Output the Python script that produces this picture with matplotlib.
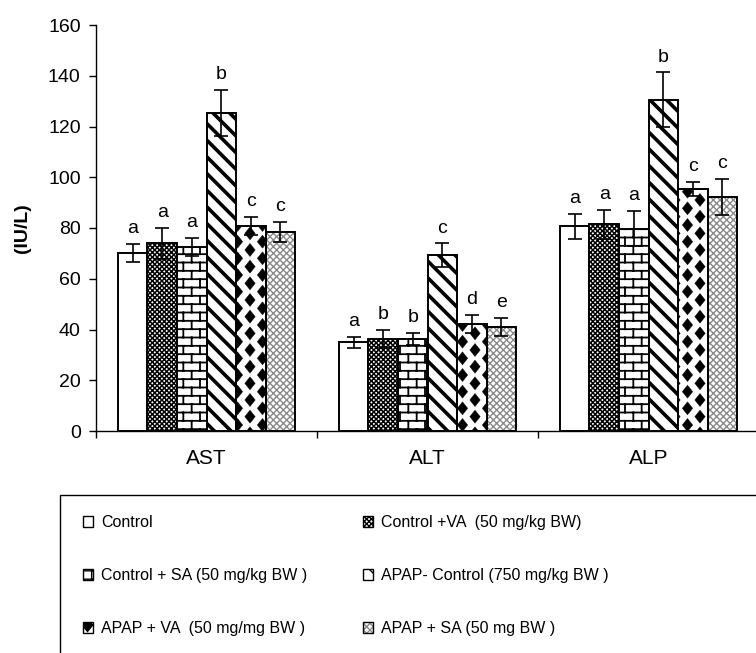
import warnings
import numpy as np
import matplotlib
matplotlib.use('Agg')
import matplotlib.pyplot as plt
import matplotlib.hatch as mhatch
from matplotlib.path import Path
from matplotlib.patches import Patch, Rectangle

warnings.filterwarnings('ignore')

# data
categories = ['AST', 'ALT', 'ALP']
group_labels = ['Control',
                'Control +VA  (50 mg/kg BW)',
                'Control + SA (50 mg/kg BW )',
                'APAP- Control (750 mg/kg BW )',
                'APAP + VA  (50 mg/mg BW )',
                'APAP + SA (50 mg BW )']

control = [70.2, 34.9, 80.7]
control_va = [73.9, 36.4, 81.5]
control_sa = [72.5, 36.4, 79.8]
apap = [125.3, 69.3, 130.5]
apap_va = [80.7, 42.3, 95.4]
apap_sa = [78.5, 41.0, 92.3]

control_err = [3.5, 2.3, 5.0]
control_va_err = [6.0, 3.5, 5.7]
control_sa_err = [3.5, 2.4, 6.8]
apap_err = [9.2, 4.6, 10.8]
apap_va_err = [3.5, 3.5, 2.8]
apap_sa_err = [4.0, 3.6, 7.0]

control_sig = ['a', 'a', 'a']
control_va_sig = ['a', 'b', 'a']
control_sa_sig = ['a', 'b', 'a']
apap_sig = ['b', 'c', 'b']
apap_va_sig = ['c', 'd', 'c']
apap_sa_sig = ['c', 'e', 'c']

values = [control, control_va, control_sa, apap, apap_va, apap_sa]
errors = [control_err, control_va_err, control_sa_err, apap_err, apap_va_err, apap_sa_err]
letters = [control_sig, control_va_sig, control_sa_sig, apap_sig, apap_va_sig, apap_sa_sig]


# custom hatches: brick wall ('b') and diamonds ('d')
class BrickHatch(mhatch.HatchPatternBase):
    def __init__(self, hatch, density):
        self.rows = 12 if 'b' in hatch else 0
        self.cols = 6
        self.num_vertices = 0 if not self.rows else self.rows * 2 + (self.rows + 1) * (self.cols + 1) * 2

    def set_vertices_and_codes(self, vertices, codes):
        h = 1.0 / self.rows
        w = 1.0 / self.cols
        k = 0
        for r in range(self.rows):
            y = (r + 0.5) * h
            vertices[k] = (0, y)
            vertices[k + 1] = (1, y)
            codes[k] = Path.MOVETO
            codes[k + 1] = Path.LINETO
            k += 2
        for r in range(self.rows + 1):
            shift = w / 2 if r % 2 else 0
            for c in range(self.cols + 1):
                xx = c * w + shift
                vertices[k] = (xx, (r - 0.5) * h)
                vertices[k + 1] = (xx, (r + 0.5) * h)
                codes[k] = Path.MOVETO
                codes[k + 1] = Path.LINETO
                k += 2


class DiamondHatch(mhatch.HatchPatternBase):
    def __init__(self, hatch, density):
        self.cols = 8 if 'd' in hatch else 0
        self.rows = 6
        self.num_vertices = 0 if not self.cols else (self.cols + 1) * (self.rows + 2) * 5

    def set_vertices_and_codes(self, vertices, codes):
        a, b = 0.052, 0.065
        k = 0
        for c in range(self.cols + 1):
            cx = c / self.cols
            for r in range(-1, self.rows + 1):
                cy = (r + 0.5 * (c % 2)) / self.rows
                vertices[k:k + 5] = [(cx - a, cy), (cx, cy - b), (cx + a, cy),
                                     (cx, cy + b), (cx - a, cy)]
                codes[k:k + 5] = [Path.MOVETO, Path.LINETO, Path.LINETO,
                                  Path.LINETO, Path.CLOSEPOLY]
                k += 5


mhatch._hatch_types.append(BrickHatch)
mhatch._hatch_types.append(DiamondHatch)

styles = [
    dict(hatch=None, hc='black', hlw=1.0),
    dict(hatch='xxxxxxx', hc='black', hlw=1.1),
    dict(hatch='b', hc='black', hlw=1.3),
    dict(hatch='\\\\', hc='black', hlw=2.6),
    dict(hatch='d', hc='black', hlw=0.3),
    dict(hatch='xxxxx', hc='#8a8a8a', hlw=1.0),
]

plt.rcParams['font.family'] = ['Liberation Sans', 'DejaVu Sans']

fig = plt.figure(figsize=(7.56, 6.53), dpi=100)
ax = fig.add_axes([96 / 756, 222 / 653, 663 / 756, 406 / 653])

x = np.arange(len(categories))
width = 0.1335
handles = []
for i, (vals, errs, sig, st) in enumerate(zip(values, errors, letters, styles)):
    pos = x + (i - 2.5) * width
    bars = ax.bar(pos, vals, width, color='white', edgecolor=st['hc'], linewidth=0,
                  hatch=st['hatch'], zorder=2)
    for b in bars:
        if hasattr(b, 'set_hatch_linewidth'):
            b.set_hatch_linewidth(st['hlw'])
    ax.bar(pos, vals, width, fill=False, edgecolor='black', linewidth=1.4, zorder=3)
    ax.errorbar(pos, vals, yerr=errs, fmt='none', ecolor='black', elinewidth=1.2,
                capsize=5, capthick=1.2, zorder=4)
    for p, v, e, s in zip(pos, vals, errs, sig):
        ax.annotate(s, (p, v + e), xytext=(0, 5), textcoords='offset points',
                    ha='center', va='bottom', fontsize=14)

    hp = Patch(facecolor='white', edgecolor=st['hc'], linewidth=0, hatch=st['hatch'])
    if hasattr(hp, 'set_hatch_linewidth'):
        hp.set_hatch_linewidth(st['hlw'])
    op = Patch(fill=False, edgecolor='black', linewidth=1.0)
    handles.append((hp, op))

ax.set_xlim(-0.5, 2.5)
ax.set_ylim(0, 160)
ax.set_yticks(np.arange(0, 161, 20))
ax.tick_params(axis='y', direction='out', length=5, width=1, pad=6, labelsize=14)
ax.set_xticks([-0.5, 0.5, 1.5, 2.5])
ax.set_xticklabels([])
ax.set_xticks(x, minor=True)
ax.set_xticklabels(categories, minor=True)
ax.tick_params(axis='x', which='major', direction='out', length=5, width=1)
ax.tick_params(axis='x', which='minor', length=0, pad=13, labelsize=15)
ax.spines['top'].set_visible(False)
ax.spines['right'].set_visible(False)
for sp in ('left', 'bottom'):
    ax.spines[sp].set_linewidth(1.0)

fig.text(22 / 756, 1 - 228 / 653, '(IU/L)', rotation=90, ha='center', va='center',
         fontsize=14, fontweight='bold')

# legend box runs off the right and bottom edges
fig.patches.append(Rectangle((60 / 756, -0.1), 1.0, 0.1 + (653 - 495) / 653,
                             transform=fig.transFigure, fill=False,
                             edgecolor='black', linewidth=1.0))

order = [0, 2, 4, 1, 3, 5]
fig.legend([handles[k] for k in order], [group_labels[k] for k in order],
           ncol=2, loc='upper left', bbox_to_anchor=(75 / 756, 1 - 507 / 653),
           frameon=False, fontsize=11.5, borderpad=0, handlelength=0.65,
           handleheight=0.65, handletextpad=0.5, labelspacing=2.38, columnspacing=3.45)

fig.savefig('out.png', dpi=100)
